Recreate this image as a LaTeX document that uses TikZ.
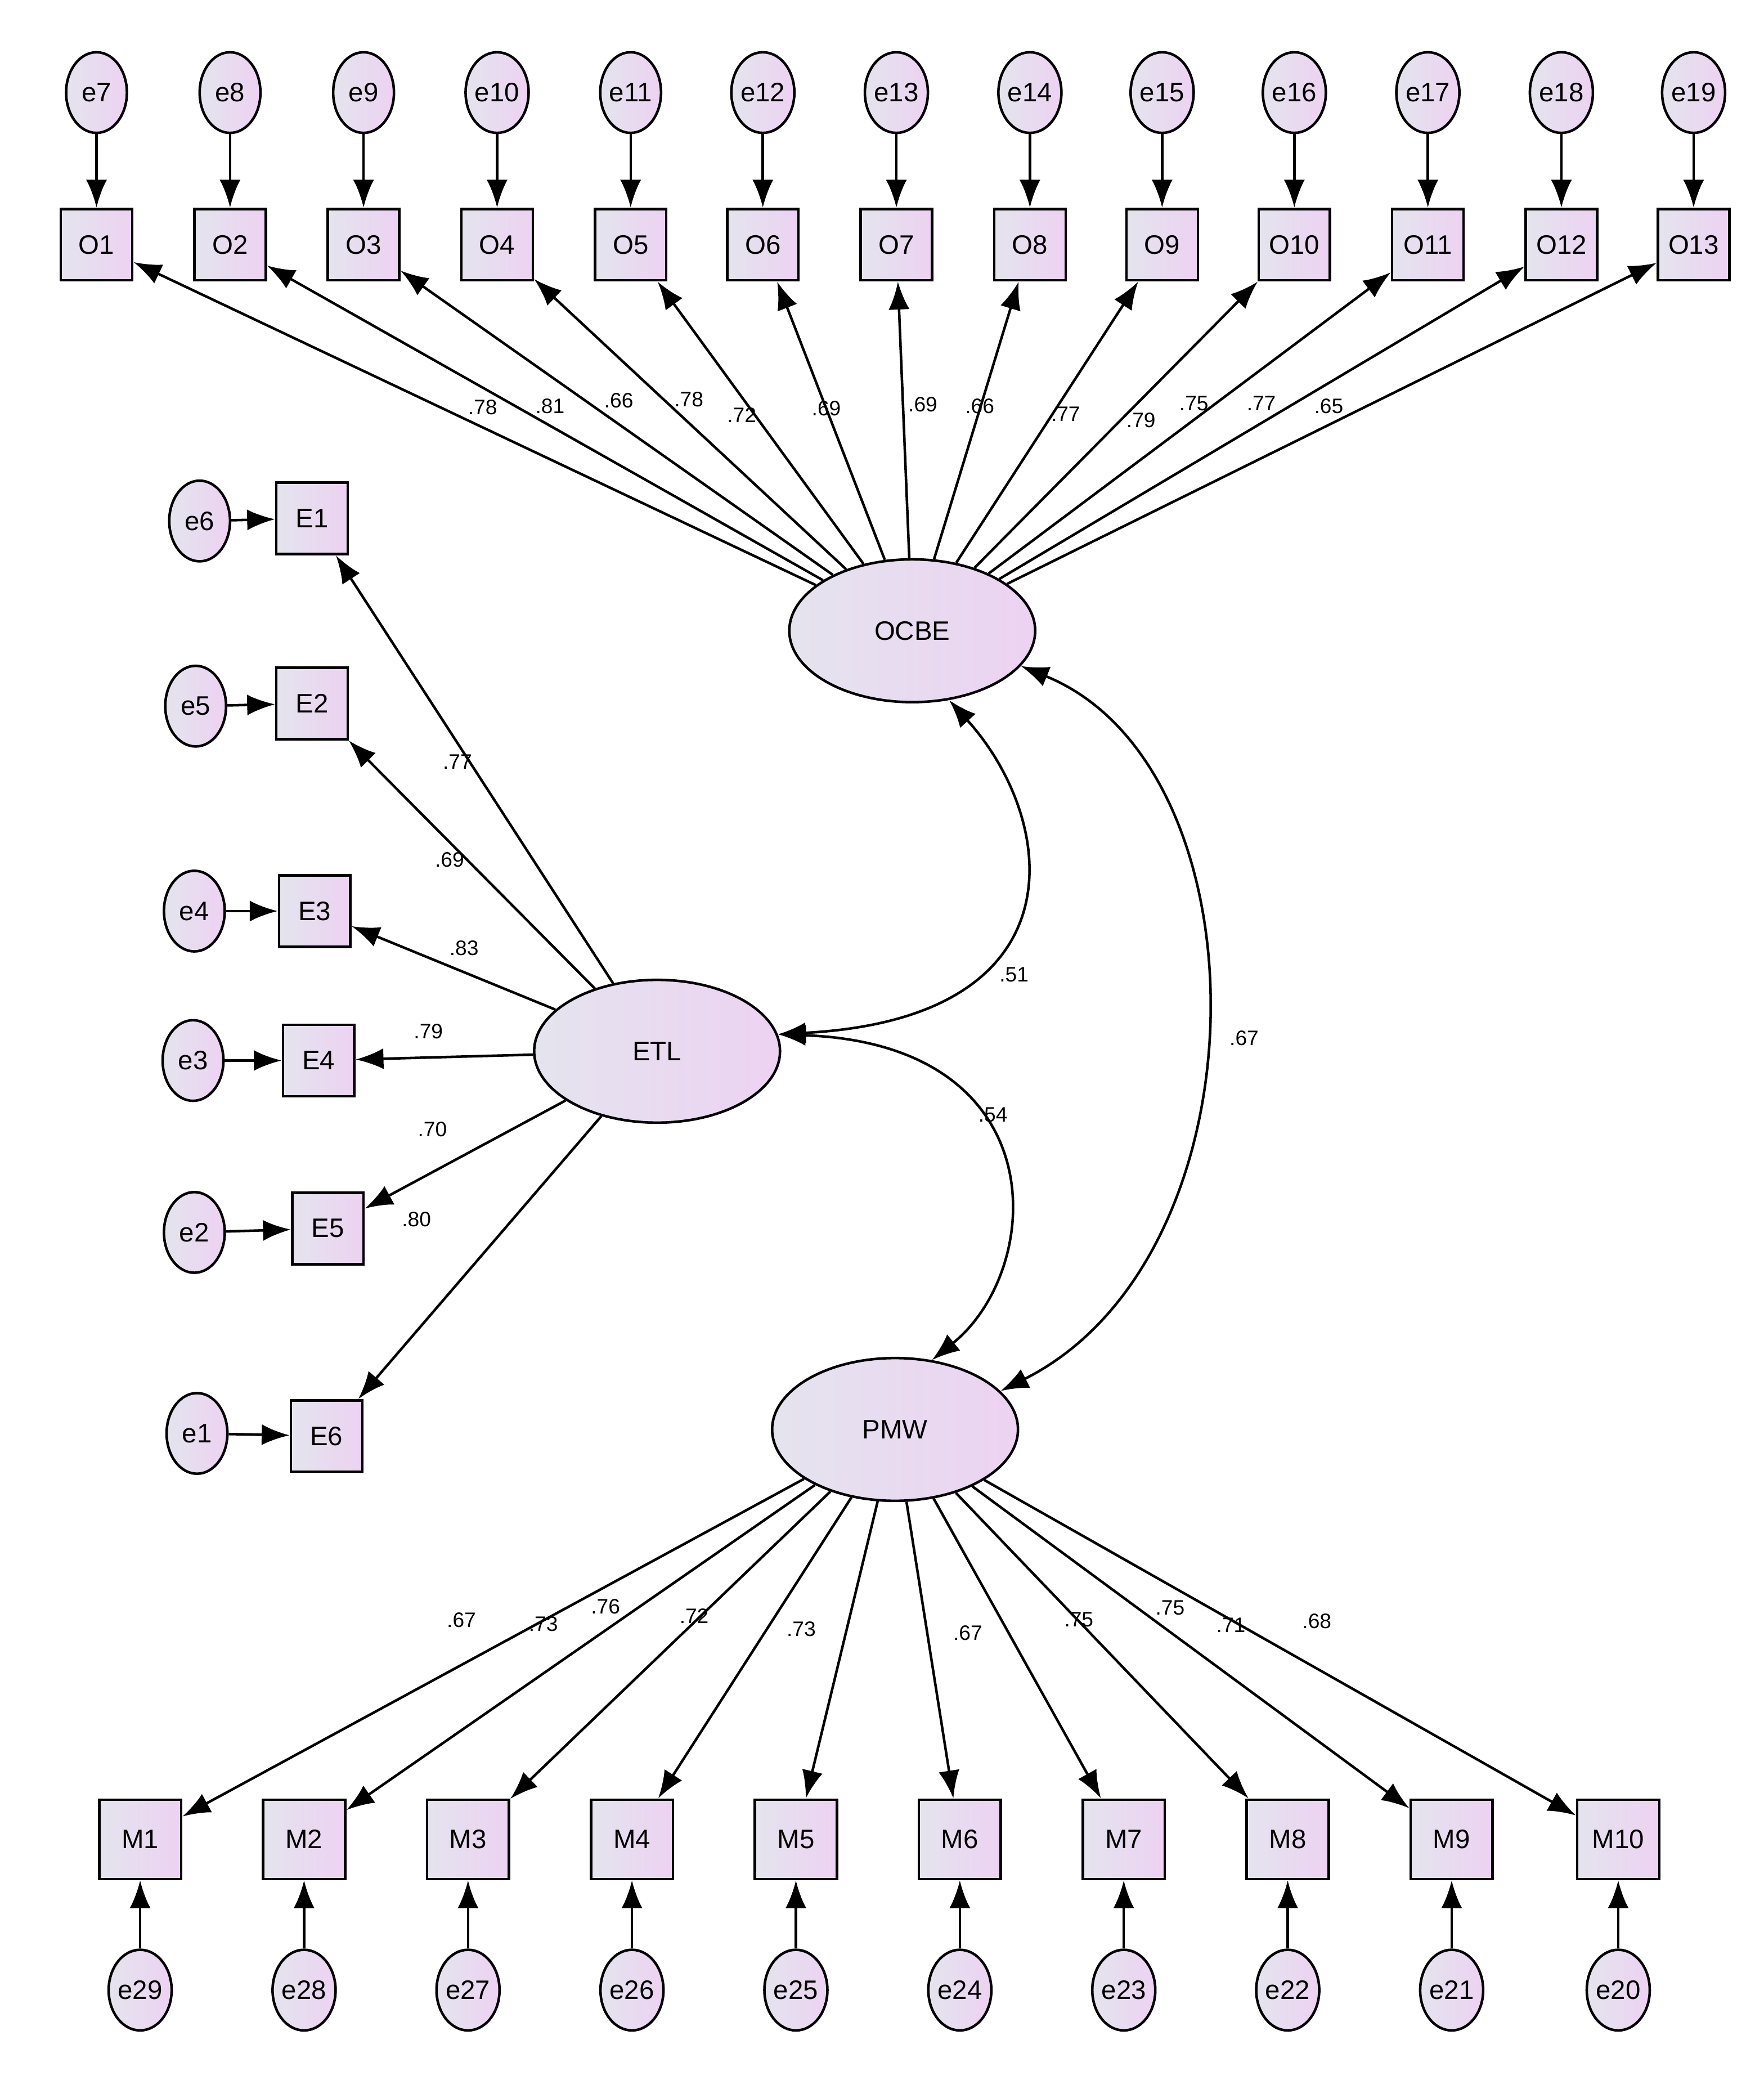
\documentclass[tikz,border=0pt]{standalone}
\usepackage{fontspec}
\setmainfont{Liberation Sans}
\usetikzlibrary{shapes.geometric,arrows.meta}
\definecolor{lc}{HTML}{E4E4EE}
\definecolor{rc}{HTML}{EDD2F2}
\begin{document}
\begin{tikzpicture}[x=0.02cm,y=-0.02cm,
 sh/.style={left color=lc, right color=rc, draw=black, line width=1.1pt},
 err/.style={sh, ellipse, minimum width=0.92cm, minimum height=1.22cm, inner sep=0pt, font=\fontsize{11.5}{12}\selectfont},
 box/.style={sh, rectangle, minimum width=1.08cm, minimum height=1.08cm, inner sep=1pt, font=\fontsize{11.5}{12}\selectfont},
 mbox/.style={box, minimum width=1.24cm, minimum height=1.2cm},
 lat/.style={sh, ellipse, minimum width=3.72cm, minimum height=2.16cm, font=\fontsize{11.5}{12}\selectfont},
 ar/.style={-{Latex[length=12pt,width=9pt]}, line width=1.1pt},
 cv/.style={{Latex[length=12pt,width=9pt]}-{Latex[length=12pt,width=9pt]}, line width=1.1pt},
 lb/.style={font=\fontsize{9}{10}\selectfont, inner sep=1pt}]
\useasboundingbox (0,0) rectangle (1334,1573);
\node[lat] (OCBE) at (690,477) {OCBE};
\node[lat] (ETL) at (497,795) {ETL};
\node[lat] (PMW) at (677,1081) {PMW};
% top
\foreach \i/\x/\lx/\ly/\v in {1/73/365/308/.78,2/174/416/307/.81,3/275/468/303/.66,4/376/521/302/.78,5/477/561/314/.72,6/577/625/309/.69,7/678/698/306/.69,8/779/741/307/.66,9/879/806/313/.77,10/979/863/318/.79,11/1080/903/305/.75,12/1181/954/305/.77,13/1281/1005/307/.65}{
 \pgfmathtruncatemacro{\ee}{\i+6}
 \node[err] (e\ee) at (\x,70) {e\ee};
 \node[box] (O\i) at (\x,185) {O\i};
 \draw[ar] (e\ee) -- (O\i);
 \draw[ar] (OCBE) -- (O\i);
 \node[lb] at (\lx,\ly) {\v};
}
% E
\foreach \i/\bx/\by/\ex/\ey/\lx/\ly/\v/\ee in {1/236/392/151/394/346/576/.77/6,2/236/532/148/534/340/650/.69/5,3/238/689/147/689/351/717/.83/4,4/241/802/146/802/324/780/.79/3,5/248/929/147/932/327/854/.70/2,6/247/1086/149/1084/315/922/.80/1}{
 \node[err] (e\ee) at (\ex,\ey) {e\ee};
 \node[box] (E\i) at (\bx,\by) {E\i};
 \draw[ar] (e\ee) -- (E\i);
 \draw[ar] (ETL) -- (E\i);
 \node[lb] at (\lx,\ly) {\v};
}
% M
\foreach \i/\x/\lx/\ly/\v in {1/106/349/1225/.67,2/230/411/1228/.73,3/354/458/1215/.76,4/478/525/1222/.72,5/602/606/1232/.73,6/726/732/1235/.67,7/850/816/1225/.75,8/974/885/1216/.75,9/1098/931/1229/.71,10/1224/996/1226/.68}{
 \pgfmathtruncatemacro{\ee}{30-\i}
 \node[err] (e\ee) at (\x,1505) {e\ee};
 \node[mbox] (M\i) at (\x,1391) {M\i};
 \draw[ar] (e\ee) -- (M\i);
 \draw[ar] (PMW) -- (M\i);
 \node[lb] at (\lx,\ly) {\v};
}
% covariances
\draw[cv] (ETL.8) .. controls (820,770) and (800,620) .. (OCBE.-62);
\draw[cv] (ETL.8) .. controls (800,790) and (790,960) .. (PMW.62);
\draw[cv] (OCBE.-18) .. controls (960,580) and (960,950) .. (PMW.20);
\node[lb] at (767,737) {.51};
\node[lb] at (941,785) {.67};
\node[lb] at (751,843) {.54};
\end{tikzpicture}
\end{document}
